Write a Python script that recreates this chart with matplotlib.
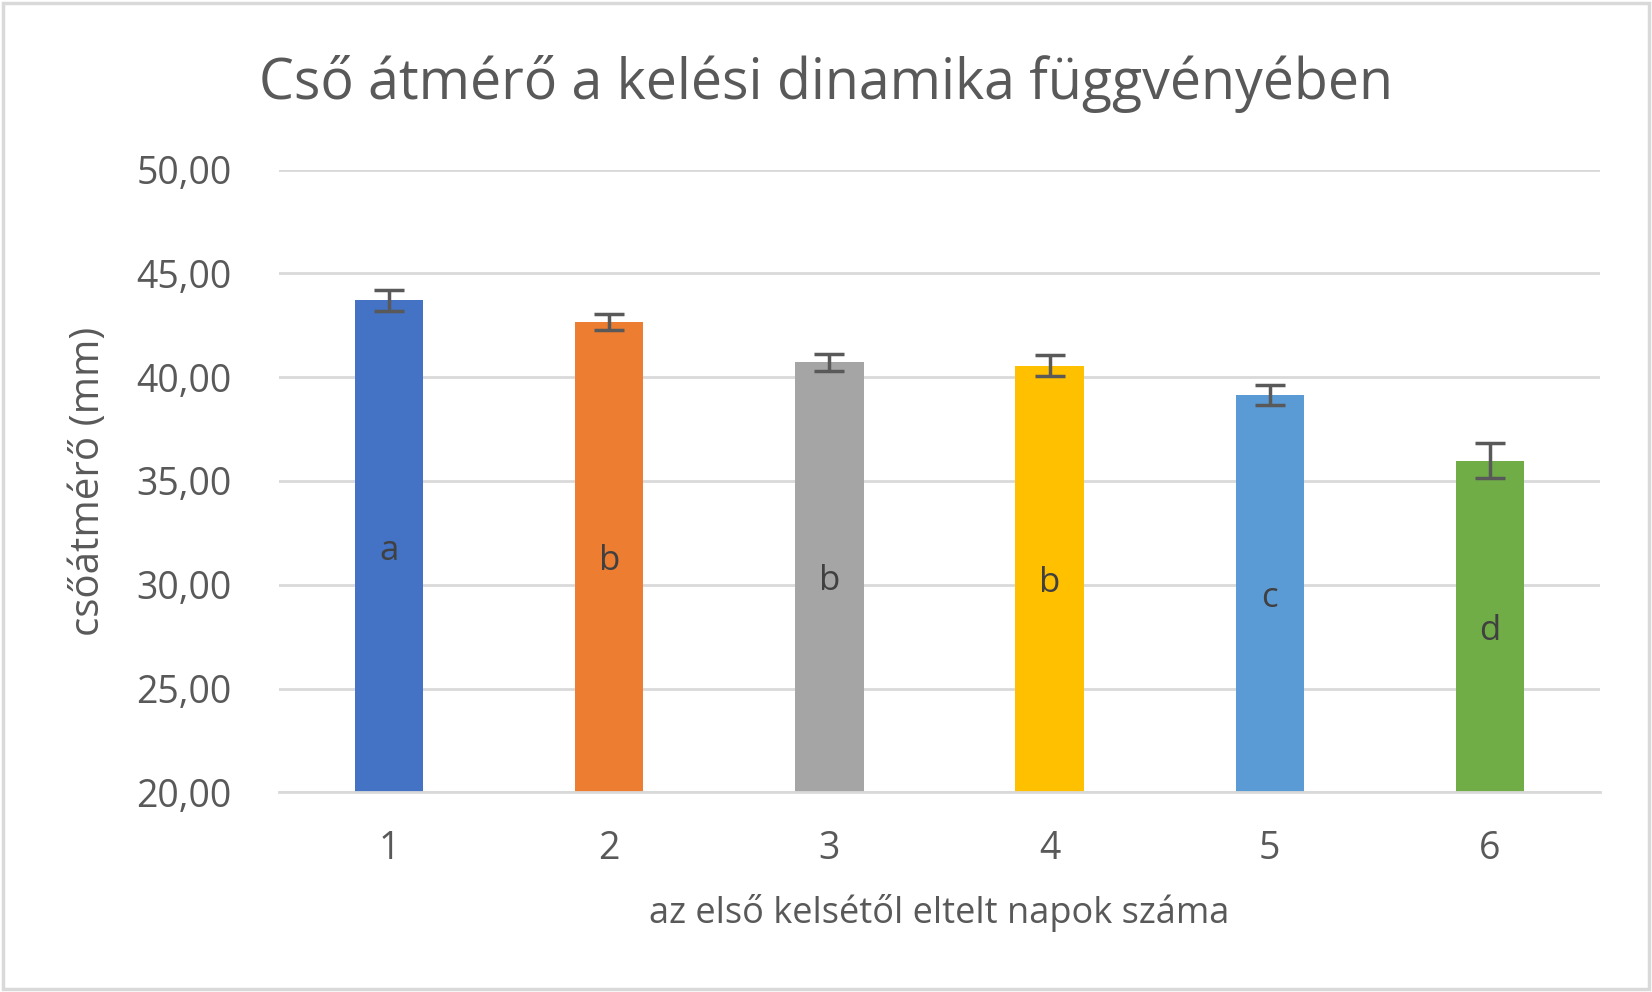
import matplotlib
matplotlib.use('Agg')
import matplotlib.pyplot as plt
from matplotlib.patches import Rectangle

# data
days = ['1', '2', '3', '4', '5', '6']
means = [43.7, 42.65, 40.73, 40.55, 39.14, 35.97]
errors = [0.5, 0.4, 0.41, 0.5, 0.49, 0.85]
letters = ['a', 'b', 'b', 'b', 'c', 'd']
colors = ['#4472C4', '#ED7D31', '#A5A5A5', '#FFC000', '#5B9BD5', '#70AD47']

plt.rcParams['font.family'] = ['Open Sans', 'DejaVu Sans']
text_color = '#595959'

fig = plt.figure(figsize=(16.52, 9.92), dpi=100)
fig.patches.append(Rectangle((0.002, 0.003), 0.996, 0.994, transform=fig.transFigure,
                             fill=False, edgecolor='#D9D9D9', linewidth=2.5))
ax = fig.add_axes([0.1689, 0.2013, 0.7996, 0.6277])

x = list(range(1, len(days) + 1))
ax.bar(x, [m - 20 for m in means], bottom=20, width=0.31, color=colors, zorder=2)
ax.errorbar(x, means, yerr=errors, fmt='none', ecolor='#595959', elinewidth=2.5,
            capsize=10.5, capthick=2.5, zorder=3)

# letters centred in each bar
for xi, m, lab in zip(x, means, letters):
    ax.text(xi, (m + 20) / 2 - 0.2, lab, ha='center', va='center', fontsize=25, color='#404040')

ax.set_xlim(0.5, 6.5)
ax.set_ylim(20, 50)
ax.set_xticks(x)
ax.set_xticklabels(days)
ax.set_yticks([20, 25, 30, 35, 40, 45, 50])
ax.set_yticklabels([f'{v},00' for v in [20, 25, 30, 35, 40, 45, 50]])
ax.tick_params(axis='both', length=0, labelsize=27, colors=text_color)
ax.tick_params(axis='y', pad=34)
ax.tick_params(axis='x', pad=27)
ax.grid(axis='y', color='#D9D9D9', linewidth=2, zorder=0)
ax.set_axisbelow(True)
for side in ['top', 'right', 'left']:
    ax.spines[side].set_visible(False)
ax.spines['bottom'].set_color('#D9D9D9')
ax.spines['bottom'].set_linewidth(2)

ax.set_xlabel('az első kelsétől eltelt napok száma', fontsize=26, color=text_color, labelpad=19)
ax.set_ylabel('csőátmérő (mm)', fontsize=29, color=text_color, labelpad=20)
fig.text(0.5, 0.915, 'Cső átmérő a kelési dinamika függvényében', ha='center', va='center',
         fontsize=40, color=text_color)

fig.savefig('out.png', dpi=100)
